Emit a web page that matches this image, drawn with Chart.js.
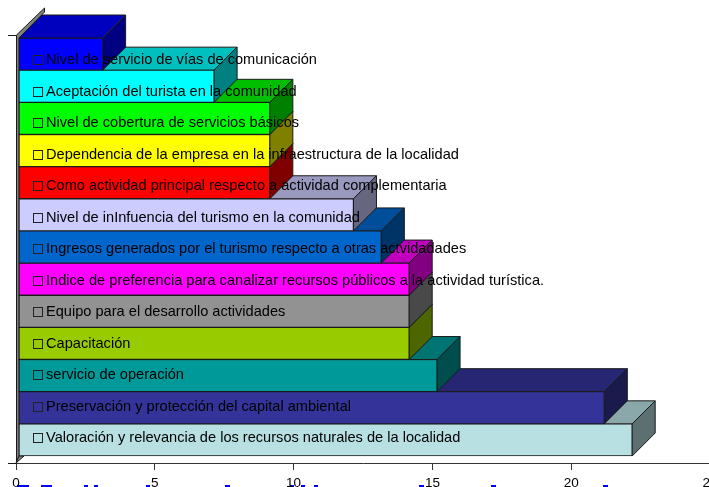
<!DOCTYPE html>
<html>
<head>
<meta charset="utf-8">
<title>Chart</title>
<script src="https://cdn.jsdelivr.net/npm/chart.js@4"></script>
<style>
  html, body { margin: 0; padding: 0; background: #fff; overflow: hidden; width: 709px; height: 487px; }
  #casesChart { position: absolute; left: 0; top: 0; }
  /* tops of a line of blue text cut off by the bottom edge of the picture */
  .cut { position: absolute; top: 485px; height: 2px; background: #0000ff; }
</style>
</head>
<body>
<div class="cut" style="left:17px;width:12px"></div>
<div class="cut" style="left:41px;width:11px"></div>
<div class="cut" style="left:84px;width:4px"></div>
<div class="cut" style="left:94px;width:4px"></div>
<div class="cut" style="left:146px;width:4px"></div>
<div class="cut" style="left:225px;width:5px"></div>
<div class="cut" style="left:290px;width:4px"></div>
<div class="cut" style="left:301px;width:4px"></div>
<div class="cut" style="left:314px;width:4px"></div>
<div class="cut" style="left:419px;width:5px"></div>
<div class="cut" style="left:491px;width:5px"></div>
<div class="cut" style="left:603px;width:5px"></div>
<canvas id="casesChart" width="740" height="487"></canvas>
<script>
// listed bottom to top, so the lower bars get painted first
const categories = [
  'Valoración y relevancia de los recursos naturales de la localidad',
  'Preservación y protección del capital ambiental',
  'servicio de operación',
  'Capacitación',
  'Equipo para el desarrollo actividades',
  'Indice de preferencia para canalizar recursos públicos a la actividad turística.',
  'Ingresos generados por el turismo respecto a otras actvidadades',
  'Nivel de inInfuencia del turismo en la comunidad',
  'Como actividad principal respecto a actividad complementaria',
  'Dependencia de la empresa en la infraestructura de la localidad',
  'Nivel de cobertura de servicios básicos',
  'Aceptación del turista en la comunidad',
  'Nivel de servicio de vías de comunicación'
];
const values = [22, 21, 15, 14, 14, 14, 13, 12, 9, 9, 9, 7, 3];
const barColors = [
  [184, 224, 226], [51, 51, 153], [0, 153, 153], [153, 204, 0], [146, 146, 146],
  [255, 0, 255], [0, 102, 204], [204, 204, 255], [255, 0, 0], [255, 255, 0],
  [0, 255, 0], [0, 255, 255], [0, 0, 255]
];
const xTicks = [0, 5, 10, 15, 20, 25];

const DEPTH = 23;          // 3d offset of the back faces
const FRONT_DX = 3;        // front plane sits off the axes
const FRONT_DY = -7;
const LABEL_TOP = 60;      // legend rows do not line up with the bars
const LABEL_STEP = 31.5;

function rgb(c, f) {
  return `rgb(${Math.round(c[0] * f)}, ${Math.round(c[1] * f)}, ${Math.round(c[2] * f)})`;
}

function poly(ctx, pts, fill) {
  ctx.beginPath();
  pts.forEach((p, i) => i ? ctx.lineTo(p[0], p[1]) : ctx.moveTo(p[0], p[1]));
  ctx.closePath();
  ctx.fillStyle = fill;
  ctx.fill();
  ctx.strokeStyle = '#1a1a1a';
  ctx.lineWidth = 1;
  ctx.stroke();
}

const bars3d = {
  id: 'bars3d',
  // wall and the part of the y axis above the bars
  beforeDatasetsDraw(chart) {
    const { ctx, chartArea: a } = chart;
    const top = a.top + FRONT_DY;
    poly(ctx, [
      [a.left + 0.5, a.bottom], [a.left + 0.5, top - 3],
      [a.left + 0.5 + DEPTH + 5, top - 3 - DEPTH - 4], [a.left + 0.5 + DEPTH + 5, top - DEPTH - 7 + 4],
      [a.left + FRONT_DX, top], [a.left + FRONT_DX, a.bottom + FRONT_DY]
    ], '#808080');
    poly(ctx, [[a.left, a.bottom], [a.left + FRONT_DX, a.bottom + FRONT_DY], [a.left + 8, a.bottom + FRONT_DY]], '#808080');
    ctx.strokeStyle = '#1a1a1a';
    ctx.beginPath();
    ctx.moveTo(a.left - 8, top - 3 + 0.5);
    ctx.lineTo(a.left, top - 3 + 0.5);
    ctx.moveTo(a.left - 8, a.bottom + 0.5);
    ctx.lineTo(a.left, a.bottom + 0.5);
    ctx.stroke();
  },
  // every bar gets its top and side painted right before its own front
  beforeDatasetDraw(chart, args) {
    const { ctx } = chart;
    ctx.save();
    ctx.translate(FRONT_DX, FRONT_DY);
    args.meta.data.forEach((el, i) => {
      const t = el.y - el.height / 2, b = el.y + el.height / 2, l = el.base, r = el.x;
      poly(ctx, [[l, t], [r, t], [r + DEPTH, t - DEPTH], [l + DEPTH, t - DEPTH]], rgb(barColors[i], 0.75));
      poly(ctx, [[r, t], [r + DEPTH, t - DEPTH], [r + DEPTH, b - DEPTH], [r, b]], rgb(barColors[i], 0.5));
      el.draw(ctx);
    });
    ctx.restore();
    return false;
  },
  // legend sits on top of the bars
  afterDatasetsDraw(chart) {
    const { ctx } = chart;
    ctx.save();
    ctx.font = '14.6px "Liberation Sans"';
    ctx.textBaseline = 'middle';
    ctx.fillStyle = '#000';
    ctx.strokeStyle = '#222';
    ctx.lineWidth = 1;
    categories.forEach((name, i) => {
      const y = LABEL_TOP + (categories.length - 1 - i) * LABEL_STEP;
      ctx.strokeRect(33.5, Math.round(y) - 4.5, 9, 9);
      ctx.fillText(name, 46, y);
    });
    ctx.restore();
  }
};

new Chart(document.getElementById('casesChart').getContext('2d'), {
  type: 'bar',
  data: {
    labels: categories,
    datasets: [{
      data: values,
      xAxisID: 'xFront',
      backgroundColor: barColors.map(c => rgb(c, 1)),
      borderColor: '#1a1a1a',
      borderWidth: 1,
      borderSkipped: false,
      barPercentage: 1,
      categoryPercentage: 1
    }]
  },
  plugins: [bars3d],
  options: {
    indexAxis: 'y',
    responsive: false,
    animation: false,
    layout: { padding: { left: 16, right: 30, top: 45, bottom: 0 } },
    plugins: { legend: { display: false }, tooltip: { enabled: false } },
    scales: {
      y: { reverse: true, display: false },
      xFront: { display: false, position: 'bottom', min: 0, max: 24.9 },
      x: {
        position: 'bottom',
        min: 0,
        max: 25,
        afterBuildTicks: axis => { axis.ticks = xTicks.map(v => ({ value: v })); },
        afterFit: axis => { axis.height = 24; },
        border: { color: '#333', width: 1 },
        grid: { drawOnChartArea: false, color: '#333', tickLength: 7 },
        ticks: {
          autoSkip: false,
          maxRotation: 0,
          padding: 5,
          color: '#000',
          font: { family: 'Liberation Sans', size: 13.5 }
        }
      }
    }
  }
});
</script>
</body>
</html>
